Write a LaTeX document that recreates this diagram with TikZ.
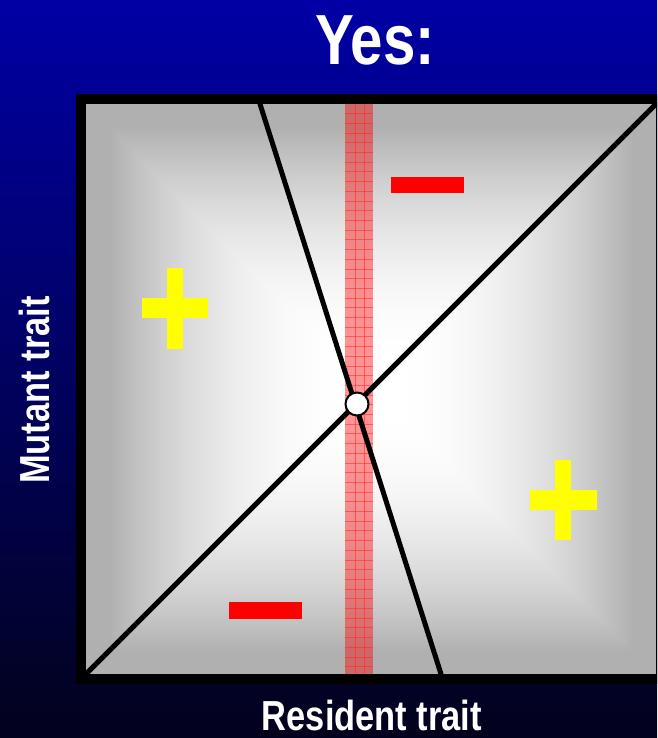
\documentclass[tikz,border=0pt]{standalone}
\usepackage{fontspec}
\newfontfamily\labfont[FakeStretch=0.82]{Liberation Sans}
\definecolor{bgtop}{RGB}{0,0,165}
\definecolor{bgbot}{RGB}{2,2,28}
\definecolor{gridred}{RGB}{255,40,40}
\definecolor{plusyel}{RGB}{255,255,0}
\definecolor{minusred}{RGB}{255,0,0}
\pgfdeclarefunctionalshading{sqshade}{\pgfpoint{-50bp}{-50bp}}{\pgfpoint{50bp}{50bp}}{}{
abs exch abs 2 copy lt {exch} if pop
25 div 0.06 sub 0.86 div
dup 0 lt {pop 0} if dup 1 gt {pop 1} if
dup mul 0.31 mul 1 exch sub
dup dup
}
\tikzset{
  curve/.style={line width=5pt, line cap=round},
  frame/.style={line width=10pt},
  bandstyle/.style={fill=red, fill opacity=0.42},
  gridline/.style={draw=gridred, draw opacity=0.55, line width=0.8pt},
  lab/.style={text=white, font=\labfont\bfseries\fontsize{42}{48}\selectfont, inner sep=0pt},
  ttl/.style={text=white, font=\labfont\bfseries\fontsize{71}{80}\selectfont, inner sep=0pt},
}
\begin{document}
\begin{tikzpicture}[x=1pt,y=-1pt]
\useasboundingbox (0,0) rectangle (657,738);
\begin{scope}
\clip (0,0) rectangle (657,738);
\shade[top color=bgtop, bottom color=bgbot] (0,0) rectangle (657,738);
\shade[shading=sqshade] (86,104) rectangle (656,674);
% band
\fill[bandstyle] (345,104) rectangle (373,674);
\foreach \i in {1,...,58} \draw[gridline] (345,{104+\i*9.7}) -- (373,{104+\i*9.7});
\foreach \xx in {355,364} \draw[gridline] (\xx,104) -- (\xx,674);
% curves
\coordinate (bl) at (86,674);
\coordinate (tr) at (656,104);
\coordinate (ta) at (260,104);
\coordinate (tb) at (441,674);
\draw[curve] (bl) -- (tr);
\draw[curve] (ta) -- (tb);
\node[circle, draw, fill=white, line width=2pt, minimum size=23pt, inner sep=0pt] (ess) at (357,404) {};
% frame
\draw[frame] (81,99) rectangle (661,679);
% signs
\fill[plusyel] (142,298) rectangle (208,318);
\fill[plusyel] (167,268) rectangle (183,349);
\fill[plusyel] (530,490) rectangle (597,510);
\fill[plusyel] (555,460) rectangle (571,540);
\fill[minusred] (391,177) rectangle (464,193);
\fill[minusred] (229,602) rectangle (302,619);
% texts
\node[ttl] (title) at (375,40) {Yes:};
\node[lab] (xlab) at (372,715) {Resident trait};
\node[lab, rotate=90] (ylab) at (34,390) {Mutant trait};
\end{scope}
\end{tikzpicture}
\end{document}
